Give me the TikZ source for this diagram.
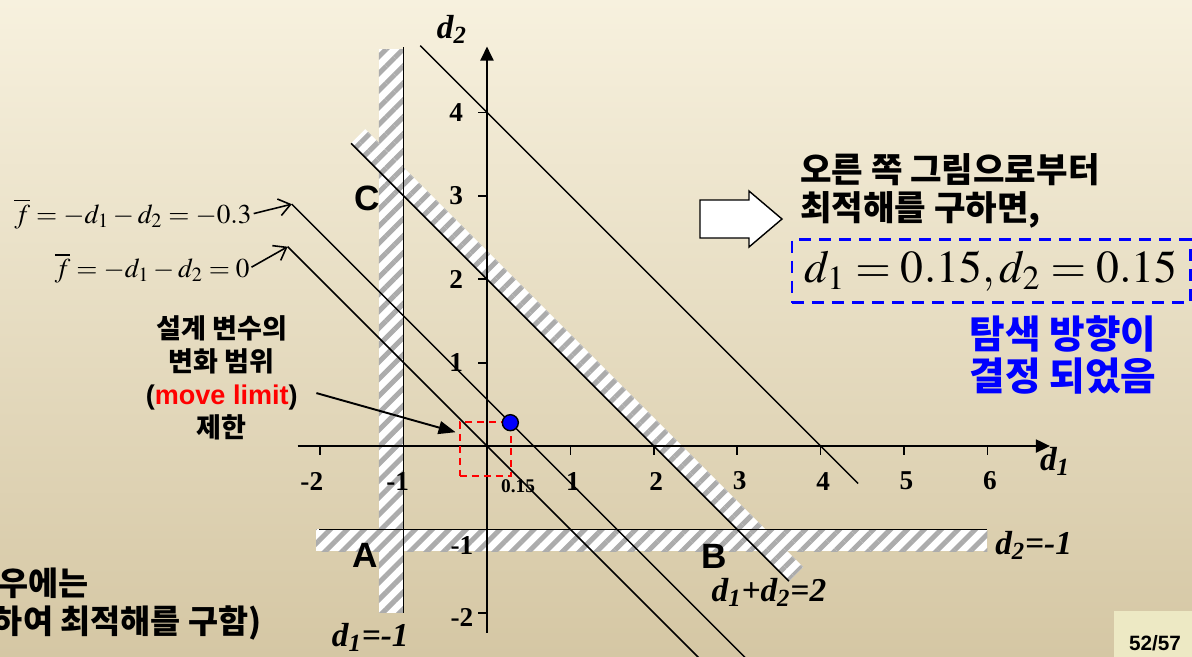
\documentclass[tikz,border=0pt]{standalone}
\usepackage{mathptmx}
\usepackage{fontspec}
\setmainfont{Liberation Serif}
\setsansfont{Liberation Sans}
\newfontfamily\korfont{Noto Sans CJK KR}[BoldFont={Noto Sans CJK KR Black}]
\usetikzlibrary{arrows.meta,patterns.meta}
\definecolor{cBgTop} {RGB}{247, 241, 222}
\definecolor{cBgBot} {RGB}{213, 199, 164}
\definecolor{cHatch} {RGB}{172, 172, 172}
\definecolor{cLimit} {RGB}{255,   0,   0}
\definecolor{cSol}   {RGB}{  0,   0, 255}
\definecolor{cPage}  {RGB}{237, 233, 196}
\tikzset{
  ax/.style     = {line width=1.1pt, -{Triangle[length=2.8mm,width=2.6mm]}},
  tk/.style     = {line width=1pt},
  cline/.style  = {line width=0.85pt},
  band/.style   = {preaction={fill=white}, pattern color=cHatch,
                   pattern={Lines[angle=45,distance=2.4mm,line width=1mm]}},
  tlab/.style   = {font=\fontsize{15.5}{18}\selectfont\bfseries, inner sep=0pt},
  clab/.style   = {font=\fontsize{19}{22}\selectfont\bfseries\itshape, inner sep=0pt},
  corner/.style = {font=\fontsize{20}{24}\selectfont\sffamily\bfseries, inner sep=0pt},
  korB/.style   = {font=\fontsize{19.5}{21.6}\selectfont\korfont\bfseries, inner sep=0pt},
  korL/.style   = {font=\fontsize{18.6}{21.6}\selectfont\korfont\bfseries, inner sep=0pt},
  korM/.style   = {font=\fontsize{15.4}{18.8}\selectfont\korfont\bfseries, inner sep=0pt,
                   align=center},
  korBlue/.style= {font=\fontsize{22}{24}\selectfont\korfont\bfseries, text=cSol,
                   inner sep=0pt, align=center},
  eq/.style     = {font=\fontsize{15.5}{18}\selectfont, inner sep=0pt},
  solbox/.style = {draw=cSol, line width=1.7pt, dash pattern=on 2.4mm off 1.6mm,
                   minimum width=79.6mm, minimum height=12.6mm,
                   font=\fontsize{26}{30}\selectfont, inner sep=0pt},
  limbox/.style = {draw=cLimit, line width=0.85pt, dash pattern=on 1.4mm off 1mm,
                   minimum width=10.2mm, minimum height=10.8mm, inner sep=0pt},
  dot/.style    = {circle, fill=cSol, draw=black, line width=0.8pt,
                   minimum size=3.2mm, inner sep=0pt},
  fA/.style     = {line width=0.9pt, -{Straight Barb[length=2.3mm,width=3.4mm]}},
  mlA/.style    = {line width=1.1pt, -{Triangle[length=3.4mm,width=2.6mm]}},
  blk/.style    = {draw=black, fill=white, line width=0.8pt},
}

\begin{document}
\begin{tikzpicture}[x=1.668cm, y=1.668cm]

%% ─── frame and background ───────────────────────────────────────
\useasboundingbox (-5.839,-2.518) rectangle (8.453,5.348);
\clip (-5.839,-2.518) rectangle (8.453,5.348);
\shade[top color=cBgTop, bottom color=cBgBot] (-5.839,-2.518) rectangle (8.453,5.348);

%% ─── page number ────────────────────────────────────────────────
\fill[cPage] (7.518,-1.978) rectangle (8.47,-2.53);
\node[font=\fontsize{11.8}{14}\selectfont\sffamily\bfseries] (pg) at (8.01,-2.362) {52/57};

%% ─── hatched sides of the constraints ───────────────────────────
\path[band] (-1.295,-2.0) rectangle (-1.0,4.76);
\path[band] (-1.63,3.63) -- (3.62,-1.62) -- (3.79,-1.45) -- (-1.46,3.80) -- cycle;
\path[band] (-2.05,-1.259) rectangle (6.0,-1.0);

%% ─── constraint and objective lines ─────────────────────────────
\coordinate (gAa) at (-1,-2.0);     \coordinate (gAb) at (-1,4.78);
\coordinate (gBa) at (-2.01,-1);    \coordinate (gBb) at (6.0,-1);
\coordinate (gCa) at (-1.63,3.63);  \coordinate (gCb) at (3.62,-1.62);
\coordinate (gDa) at (-0.8,4.8);    \coordinate (gDb) at (4.45,-0.45);
\coordinate (fA)  at (-2.34,2.9);   \coordinate (fAe) at (3.4,-2.84);
\coordinate (fB)  at (-2.39,2.39);  \coordinate (fBe) at (2.9,-2.9);

\draw[cline] (gAa) -- (gAb);
\draw[cline] (gBa) -- (gBb);
\draw[cline] (gCa) -- (gCb);
\draw[cline] (gDa) -- (gDb);
\draw[cline] (fA) -- (fAe);
\draw[cline] (fB) -- (fBe);

%% ─── axes ───────────────────────────────────────────────────────
\coordinate (xL) at (-2.27,0);  \coordinate (xR) at (6.75,0);
\coordinate (yB) at (0,-2.24);  \coordinate (yT) at (0,4.79);
\draw[ax] (xL) -- (xR);
\draw[ax] (yB) -- (yT);

\foreach \x in {-2,-1,1,2,3,4,5,6}
  \draw[tk] (\x,0) -- (\x,-0.11);
\foreach \y in {-2,-1,1,2,3,4}
  \draw[tk] (0,\y) -- (-0.11,\y);

\foreach \x in {1,...,6}
  \node[tlab] (xt\x) at (\x+0.03,-0.42) {\x};
\node[tlab] (xtm2) at (-2.1,-0.42) {-2};
\node[tlab] (xtm1) at (-1.07,-0.42) {-1};
\foreach \y in {1,...,4}
  \node[tlab] (yt\y) at (-0.37,\y) {\y};
\node[tlab] (ytm1) at (-0.30,-1.19) {-1};
\node[tlab] (ytm2) at (-0.30,-2.05) {-2};

\node[clab] (d1lab) at (6.81,-0.18) {d\textsubscript{1}};
\node[clab] (d2lab) at (-0.42,4.99) {d\textsubscript{2}};

%% ─── constraint labels ──────────────────────────────────────────
\node[clab] (cAlab) at (-1.40,-2.29) {d\textsubscript{1}=-1};
\node[clab, anchor=west] (cBlab) at (6.09,-1.19) {d\textsubscript{2}=-1};
\node[clab] (cClab) at (3.38,-1.76) {d\textsubscript{1}+d\textsubscript{2}=2};

\node[corner] (ptC) at (-1.44,2.97) {C};
\node[corner] (ptA) at (-1.46,-1.31) {A};
\node[corner] (ptB) at (2.72,-1.32) {B};

%% ─── move limit and optimum ─────────────────────────────────────
\node[limbox] (lim) at (-0.02,-0.035) {};
\node[dot] (opt) at (0.28,0.28) {};
\node[font=\fontsize{11}{13}\selectfont\bfseries, inner sep=0pt] (v015) at (0.372,-0.48) {0.15};

\node[korM] (mlim) at (-3.18,0.815)
  {설계 변수의\\변화 범위\\{\sffamily(\textcolor{cLimit}{move limit})}\\제한};
\draw[mlA] ([shift={(0.22,-0.18)}]mlim.east) -- ([xshift=-0.7mm,yshift=-2.2mm]lim.north west);

%% ─── objective labels ───────────────────────────────────────────
\node[eq, anchor=east] (eqA) at (-2.818,2.782) {$\overline{f}=-d_1-d_2=-0.3$};
\node[eq, anchor=east] (eqB) at (-2.842,2.134) {$\overline{f}=-d_1-d_2=0$};
\draw[fA, shorten <=1pt] (eqA.east) -- (fA);
\draw[fA, shorten <=1pt] (eqB.east) -- (fB);

%% ─── result on the right ────────────────────────────────────────
\draw[blk] (2.554,2.494) -- (3.141,2.494) -- (3.141,2.386) -- (3.537,2.722)
  -- (3.141,3.058) -- (3.141,2.950) -- (2.554,2.950) -- cycle;

\node[korB, anchor=west, align=left] (howto) at (3.75,3.06)
  {오른 쪽 그림으로부터\\최적해를 구하면,};
\node[solbox] (sol) at (6.043,2.093) {$d_1=0.15, d_2=0.15$};
\node[korBlue] (dir) at (6.906,1.09) {탐색 방향이\\결정 되었음};

%% ─── cut-off note at bottom left ────────────────────────────────
\node[korL, anchor=east] (noteA) at (-4.772,-1.643) {우에는};
\node[korL, anchor=east] (noteB) at (-2.698,-2.122) {하여 최적해를 구함)};

\end{tikzpicture}
\end{document}
